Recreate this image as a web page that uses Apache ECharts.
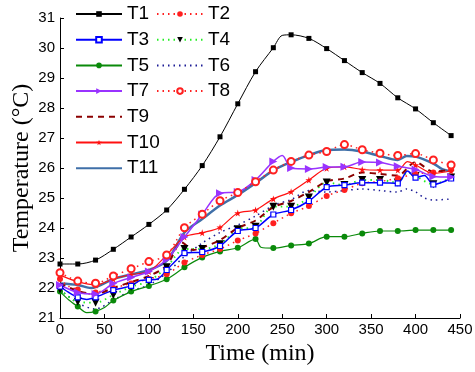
<!DOCTYPE html>
<html>
<head>
<meta charset="utf-8">
<script src="https://cdn.jsdelivr.net/npm/echarts@6/dist/echarts.min.js"></script>
<style>html,body{margin:0;padding:0;background:#fff}#c{width:475px;height:372px}</style>
</head>
<body>
<div id="c"></div>
<script>
// time (min), temperature (°C)
const T1 = [[0,22.8],[20,22.8],[40,22.93],[60,23.29],[80,23.7],[100,24.12],[120,24.6],[140,25.29],[160,26.08],[180,27.04],[200,28.14],[220,29.21],[240,30.01],[250,30.42],[260,30.44],[280,30.32],[300,29.98],[320,29.58],[340,29.18],[360,28.82],[380,28.34],[400,27.97],[420,27.51],[440,27.08]];
const T2 = [[0,22.3],[10,22.05],[20,21.95],[30,21.8],[40,21.85],[60,22.0],[80,22.15],[100,22.3],[120,22.46],[140,22.85],[160,23.1],[180,23.3],[200,23.58],[220,23.82],[240,24.16],[260,24.49],[280,24.73],[300,25.07],[320,25.27],[340,25.49],[360,25.55],[380,25.66],[400,25.8],[420,25.85],[440,25.95]];
const T3 = [[0,22.05],[10,21.85],[20,21.69],[30,21.62],[40,21.69],[60,21.93],[80,22.07],[90,22.25],[100,22.27],[110,22.3],[120,22.6],[130,22.9],[140,23.16],[160,23.2],[180,23.4],[200,23.9],[220,24.0],[240,24.45],[260,24.6],[280,24.9],[300,25.36],[320,25.43],[340,25.51],[360,25.51],[380,25.49],[391,25.9],[400,25.68],[410,25.75],[420,25.45],[440,25.65]];
const T4 = [[0,21.95],[20,21.54],[40,21.51],[60,21.77],[80,22.04],[100,22.23],[120,22.69],[140,23.3],[160,23.3],[180,23.46],[200,23.96],[220,24.04],[240,24.71],[260,24.71],[280,25.02],[300,25.52],[320,25.43],[340,25.6],[360,25.6],[380,25.52],[391,25.85],[400,25.73],[420,25.46],[440,25.68]];
const T5 = [[0,21.88],[10,21.6],[20,21.38],[30,21.18],[40,21.22],[50,21.35],[60,21.58],[80,21.88],[100,22.07],[120,22.29],[140,22.69],[160,23.02],[180,23.22],[200,23.34],[220,23.63],[226,23.36],[240,23.33],[260,23.42],[280,23.48],[300,23.71],[320,23.71],[340,23.82],[360,23.9],[380,23.9],[400,23.93],[420,23.93],[440,23.93]];
const T6 = [[0,21.95],[20,21.5],[40,21.3],[60,21.6],[80,21.9],[100,22.1],[120,22.5],[140,23.05],[160,23.5],[180,23.85],[200,24.1],[220,24.4],[240,24.75],[260,24.95],[280,25.25],[300,25.2],[320,25.25],[340,25.3],[360,25.25],[380,25.2],[390,25.3],[400,25.2],[410,25.0],[420,24.93],[440,24.97]];
const T7 = [[0,22.1],[20,21.85],[40,21.8],[60,22.15],[80,22.35],[100,22.55],[120,22.95],[140,23.7],[160,24.45],[180,25.16],[200,25.2],[220,25.6],[240,26.22],[250,26.42],[260,26.0],[280,25.97],[300,26.03],[320,26.04],[340,26.2],[360,26.18],[380,26.06],[400,25.95],[420,25.72],[440,25.7]];
const T8 = [[0,22.51],[20,22.23],[40,22.16],[60,22.4],[80,22.64],[100,22.88],[120,23.1],[140,24.01],[160,24.46],[180,24.91],[200,25.18],[220,25.54],[240,25.93],[260,26.22],[280,26.43],[300,26.55],[320,26.78],[340,26.61],[360,26.49],[380,26.42],[400,26.48],[420,26.27],[440,26.1]];
const T9 = [[0,22.15],[20,21.9],[40,21.8],[60,22.0],[80,22.2],[100,22.4],[120,22.75],[137,23.52],[150,23.27],[160,23.35],[180,23.6],[200,24.0],[220,24.25],[240,24.7],[260,24.9],[280,25.2],[300,25.55],[320,25.65],[340,25.85],[360,25.8],[380,25.75],[400,26.2],[420,25.88],[440,25.95]];
const T10 = [[0,22.43],[20,22.21],[40,22.1],[60,22.3],[80,22.45],[100,22.55],[120,23.1],[140,23.7],[160,23.84],[180,24.02],[200,24.5],[220,24.6],[240,24.97],[260,25.21],[280,25.6],[300,25.99],[320,26.04],[340,25.95],[360,25.93],[380,25.93],[391,26.21],[400,26.1],[420,25.82],[440,25.9]];
const T11 = [[0,22.15],[20,22.1],[35,22.0],[60,22.3],[80,22.45],[100,22.6],[120,22.9],[140,23.85],[160,24.3],[180,24.75],[200,25.1],[220,25.5],[240,25.92],[260,26.2],[280,26.43],[300,26.6],[320,26.62],[340,26.55],[360,26.4],[380,26.27],[390,26.4],[400,26.38],[420,26.15],[430,25.96],[440,25.88]];
const xTicks = {min: 0, max: 450, step: 50};
const yTicks = {min: 21, max: 31, step: 1};
const legendCol1 = ['T1','T3','T5','T7','T9','T10','T11'];
const legendCol2 = ['T2','T4','T6','T8'];
const noMarker = ['T6','T9','T11'];

const STAR = 'path://M50,0 L61,35 L98,35 L68,57 L79,91 L50,70 L21,91 L32,57 L2,35 L39,35 Z';
const dotted = [1.5, 4];

function pts(arr) {
  return arr.map(p => (p[0] % 20 === 0) ? {value: p} : {value: p, symbol: 'none'});
}
function mk(name, arr, o) {
  return Object.assign({
    name: name, type: 'line', data: pts(arr), smooth: 0.3,
    showSymbol: true, showAllSymbol: true, animation: false
  }, o);
}

const series = [
  mk('T11', T11, {symbol: 'none', lineStyle: {color: '#3f6fa8', width: 2.5}, itemStyle: {color: '#3f6fa8'}}),
  mk('T6', T6, {symbol: 'none', lineStyle: {color: '#1c1c96', width: 1.5, type: dotted}, itemStyle: {color: '#1c1c96'}}),
  mk('T5', T5, {symbol: 'circle', symbolSize: 6, lineStyle: {color: '#0a8a0a', width: 1.2}, itemStyle: {color: '#0a8a0a'}}),
  mk('T4', T4, {symbol: 'triangle', symbolRotate: 180, symbolSize: 8, lineStyle: {color: '#22ee22', width: 1.8, type: dotted}, itemStyle: {color: '#000000'}}),
  mk('T2', T2, {symbol: 'circle', symbolSize: 6, lineStyle: {color: '#ff2020', width: 1.5, type: dotted}, itemStyle: {color: '#ff2020'}}),
  mk('T3', T3, {symbol: 'rect', symbolSize: 5, lineStyle: {color: '#0000ff', width: 1.5}, itemStyle: {color: '#ffffff', borderColor: '#0000ff', borderWidth: 1.2}}),
  mk('T9', T9, {symbol: 'none', lineStyle: {color: '#8b0000', width: 2, type: [6, 5]}, itemStyle: {color: '#8b0000'}}),
  mk('T10', T10, {symbol: STAR, symbolSize: 7, lineStyle: {color: '#ff1010', width: 1.2}, itemStyle: {color: '#ff1010'}}),
  mk('T7', T7, {symbol: 'triangle', symbolRotate: -90, symbolSize: 8, lineStyle: {color: '#9933ff', width: 1.5}, itemStyle: {color: '#9933ff'}}),
  mk('T8', T8, {symbol: 'emptyCircle', symbolSize: 7, lineStyle: {color: '#ff2020', width: 1.5, type: dotted}, itemStyle: {color: '#ff2020', borderWidth: 1.3}}),
  mk('T1', T1, {symbol: 'rect', symbolSize: 5, lineStyle: {color: '#000000', width: 1}, itemStyle: {color: '#000000'}})
];

function legendData(names) {
  return names.map(n => noMarker.indexOf(n) >= 0 ? {name: n, itemStyle: {opacity: 0}} : {name: n});
}
const legendText = {fontFamily: 'Liberation Sans, Arial, sans-serif', fontSize: 19, color: '#000', lineHeight: 20};
const legendBase = {orient: 'vertical', top: 4, padding: 0, itemWidth: 46, itemHeight: 7, itemGap: 5.7,
  textStyle: legendText, selectedMode: false};
const chart = echarts.init(document.getElementById('c'), null, {renderer: 'canvas'});
chart.setOption({
  backgroundColor: '#fff',
  animation: false,
  grid: {left: 60, right: 15, top: 18, bottom: 54, containLabel: false, outerBoundsMode: 'none'},
  legend: [
    Object.assign({data: legendData(legendCol1), left: 75}, legendBase),
    Object.assign({data: legendData(legendCol2), left: 156}, legendBase)
  ],
  xAxis: {
    type: 'value', min: xTicks.min, max: xTicks.max, interval: xTicks.step,
    name: 'Time (min)', nameLocation: 'middle', nameGap: 22,
    nameTextStyle: {fontFamily: 'Liberation Serif, Times New Roman, serif', fontSize: 24, color: '#000'},
    axisLine: {lineStyle: {color: '#000', width: 1}},
    axisTick: {inside: true, length: 4, lineStyle: {color: '#000'}},
    axisLabel: {fontFamily: 'Liberation Sans, Arial, sans-serif', fontSize: 15, color: '#000', margin: 4},
    splitLine: {show: false}
  },
  yAxis: {
    type: 'value', min: yTicks.min, max: yTicks.max, interval: yTicks.step,
    name: 'Temperature (°C)', nameLocation: 'middle', nameGap: 26, nameMoveOverlap: false,
    nameTextStyle: {fontFamily: 'Liberation Serif, Times New Roman, serif', fontSize: 24, color: '#000'},
    axisLine: {show: true, lineStyle: {color: '#000', width: 1}},
    axisTick: {show: true, inside: true, length: 4, lineStyle: {color: '#000'}},
    axisLabel: {fontFamily: 'Liberation Sans, Arial, sans-serif', fontSize: 15, color: '#000', margin: 5},
    splitLine: {show: false}
  },
  series: series
});
</script>
</body>
</html>
